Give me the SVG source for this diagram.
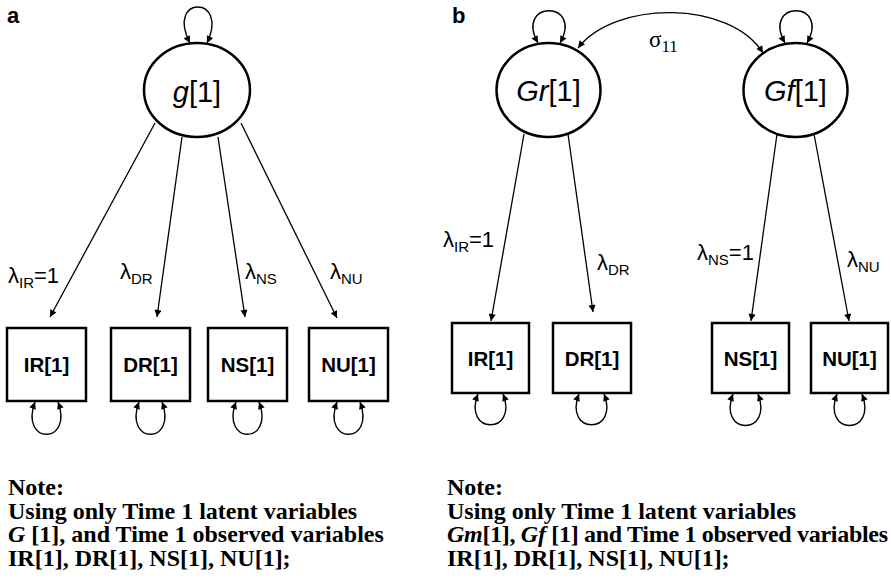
<svg xmlns="http://www.w3.org/2000/svg" width="891" height="582" viewBox="0 0 891 582">
<style>
.bg{fill:#fff}
.lat{fill:#fff;stroke:#000;stroke-width:2.5}
.obs{fill:#fff;stroke:#000;stroke-width:2.5}
.edge{fill:none;stroke:#000;stroke-width:1.3;marker-end:url(#arr)}
.loop{fill:none;stroke:#000;stroke-width:1.4;marker-start:url(#arr);marker-end:url(#arr)}
.panel{font-family:"Liberation Sans",Arial,sans-serif;font-weight:bold;font-size:22px;fill:#000}
.latt{font-family:"Liberation Sans",Arial,sans-serif;font-size:29px;fill:#000;text-anchor:middle}
.obst{font-family:"Liberation Sans",Arial,sans-serif;font-weight:bold;font-size:20.5px;fill:#000;text-anchor:middle}
.lam{font-family:"Liberation Sans",Arial,sans-serif;font-size:22px;fill:#000}
.sub{font-size:15px}
.sig{font-family:"Liberation Serif","Times New Roman",serif;font-size:23px;fill:#000}
.note{font-family:"Liberation Serif","Times New Roman",serif;font-weight:bold;font-size:24px;fill:#000}
</style>
<defs>
<marker id="arr" viewBox="0 0 10 10" refX="10" refY="5" markerWidth="9" markerHeight="7" markerUnits="userSpaceOnUse" orient="auto-start-reverse">
<path d="M0,0 L10,5 L0,10 z" fill="#000"/>
</marker>
</defs>
<rect class="bg" x="0" y="0" width="891" height="582"/>
<text class="panel" x="7" y="23">a</text>
<text class="panel" x="452" y="23">b</text>

<g id="connectors">
<!-- panel a -->
<path class="loop" d="M190,43 C165,-5 230,-5 207,43"/>
<path class="edge" d="M155,123 L50,317"/>
<path class="edge" d="M182,137 L157,317"/>
<path class="edge" d="M218,137 L245,317"/>
<path class="edge" d="M241,123 L337,318"/>
<path class="loop" d="M35,402 C19,445 74,445 58,402"/>
<path class="loop" d="M139,402 C123,445 178,445 162,402"/>
<path class="loop" d="M236,402 C220,445 275,445 259,402"/>
<path class="loop" d="M337,402 C321,445 376,445 360,402"/>
<!-- panel b -->
<path class="loop" d="M538,43 C514,0 584,0 560,43"/>
<path class="loop" d="M785,43 C761,0 831,0 807,43"/>
<path class="loop" d="M578,48 C615,0 730,0 763,53"/>
<path class="edge" d="M524,134 L491,321"/>
<path class="edge" d="M568,134 L593,312"/>
<path class="edge" d="M777,134 L751,321"/>
<path class="edge" d="M814,134 L849,321"/>
<path class="loop" d="M478,394 C462,435 519,435 503,394"/>
<path class="loop" d="M579,394 C563,435 620,435 604,394"/>
<path class="loop" d="M733,394 C717,436 774,436 758,394"/>
<path class="loop" d="M837,394 C821,436 878,436 862,394"/>
</g>

<g id="g1">
<ellipse class="lat" cx="197" cy="90" rx="53" ry="47"/>
<text class="latt" x="197" y="102"><tspan font-style="italic">g</tspan>[1]</text>
</g>
<g id="IR1a"><rect class="obs" x="7" y="328" width="79" height="73"/><text class="obst" x="46.5" y="372">IR[1]</text></g>
<g id="DR1a"><rect class="obs" x="111" y="328" width="79" height="73"/><text class="obst" x="150.5" y="372">DR[1]</text></g>
<g id="NS1a"><rect class="obs" x="208" y="328" width="79" height="73"/><text class="obst" x="247.5" y="372">NS[1]</text></g>
<g id="NU1a"><rect class="obs" x="309" y="328" width="79" height="73"/><text class="obst" x="348.5" y="372">NU[1]</text></g>

<g id="labels-a">
<text class="lam" x="8" y="283">λ<tspan class="sub" dy="5">IR</tspan><tspan dy="-5">=1</tspan></text>
<text class="lam" x="120" y="279">λ<tspan class="sub" dy="5">DR</tspan></text>
<text class="lam" x="245" y="279">λ<tspan class="sub" dy="5">NS</tspan></text>
<text class="lam" x="330" y="279">λ<tspan class="sub" dy="5">NU</tspan></text>
</g>

<g id="Gr1">
<ellipse class="lat" cx="548.5" cy="90" rx="52" ry="47"/>
<text class="latt" x="548.5" y="101"><tspan font-style="italic">Gr</tspan>[1]</text>
</g>
<g id="Gf1">
<ellipse class="lat" cx="795.5" cy="90" rx="52" ry="47"/>
<text class="latt" x="795.5" y="101"><tspan font-style="italic">Gf</tspan>[1]</text>
</g>
<g id="IR1b"><rect class="obs" x="452" y="323" width="77" height="70"/><text class="obst" x="490.5" y="366">IR[1]</text></g>
<g id="DR1b"><rect class="obs" x="553" y="323" width="78" height="70"/><text class="obst" x="592" y="366">DR[1]</text></g>
<g id="NS1b"><rect class="obs" x="712" y="323" width="77" height="70"/><text class="obst" x="750.5" y="366">NS[1]</text></g>
<g id="NU1b"><rect class="obs" x="811" y="323" width="77" height="70"/><text class="obst" x="849.5" y="366">NU[1]</text></g>

<g id="labels-b">
<text class="sig" x="649" y="47">σ<tspan font-size="17" dy="5">11</tspan></text>
<text class="lam" x="443" y="247">λ<tspan class="sub" dy="5">IR</tspan><tspan dy="-5">=1</tspan></text>
<text class="lam" x="597" y="270">λ<tspan class="sub" dy="5">DR</tspan></text>
<text class="lam" x="697" y="260">λ<tspan class="sub" dy="5">NS</tspan><tspan dy="-5">=1</tspan></text>
<text class="lam" x="847" y="267">λ<tspan class="sub" dy="5">NU</tspan></text>
</g>

<g id="note-a">
<text class="note" x="8" y="495">Note:</text>
<text class="note" x="8" y="518.5">Using only Time 1 latent variables</text>
<text class="note" x="8" y="542"><tspan font-style="italic">G</tspan> [1], and Time 1 observed variables</text>
<text class="note" x="8" y="565.5">IR[1], DR[1], NS[1], NU[1];</text>
</g>
<g id="note-b">
<text class="note" x="447" y="495">Note:</text>
<text class="note" x="447" y="518.5">Using only Time 1 latent variables</text>
<text class="note" x="447" y="542" textLength="441" lengthAdjust="spacing"><tspan font-style="italic">Gm</tspan>[1], <tspan font-style="italic">Gf</tspan> [1] and Time 1 observed variables</text>
<text class="note" x="447" y="565.5">IR[1], DR[1], NS[1], NU[1];</text>
</g>
</svg>
